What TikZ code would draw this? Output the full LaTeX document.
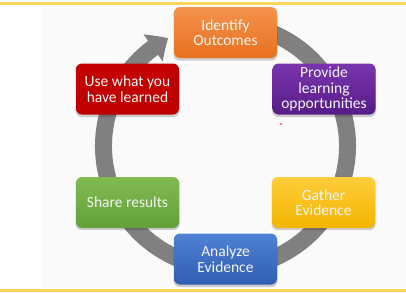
\documentclass[tikz,border=0pt]{standalone}
\usepackage{fontspec}
\setmainfont{Carlito}
\usetikzlibrary{arrows.meta,bending,calc}
\definecolor{bandyellow}{HTML}{FFD55A}
\definecolor{ringgray}{HTML}{808080}
\definecolor{orangeT}{HTML}{F5924C}\definecolor{orangeB}{HTML}{E8701F}
\definecolor{purpleT}{HTML}{7A35AE}\definecolor{purpleB}{HTML}{561C86}
\definecolor{yellowT}{HTML}{FFCD3A}\definecolor{yellowB}{HTML}{F2B500}
\definecolor{blueT}{HTML}{4F82D4}\definecolor{blueB}{HTML}{2F5DB2}
\definecolor{greenT}{HTML}{82BA52}\definecolor{greenB}{HTML}{62A038}
\definecolor{redT}{HTML}{C50000}\definecolor{redB}{HTML}{BE0000}
\definecolor{txt}{HTML}{F4F4F4}
\tikzset{
  stepbox/.style={rounded corners=6pt, minimum width=103pt, minimum height=51pt,
    align=center, text=txt, font=\fontsize{15.5}{15.5}\selectfont, inner sep=2pt},
  shadowbox/.style={fill=black, opacity=0.18, rounded corners=6pt, minimum width=104pt, minimum height=52pt},
}
\begin{document}
\begin{tikzpicture}[x=1pt,y=-1pt]
\useasboundingbox (0,0) rectangle (406,292);
\fill[white] (0,0) rectangle (406,292);
\fill[black!2] (42,4.5) rectangle (406,288.5);
\fill[bandyellow] (0,2) rectangle (406,4.5);
\fill[bandyellow] (0,288.5) rectangle (406,292);
\coordinate (c) at (225.5,146);
% ring with arrow
\draw[ringgray, line width=17pt, -{Triangle[width=32pt,length=18pt,bend]}]
  ($(c)+(80:122pt)$) arc[start angle=80, end angle=-242, radius=122pt];
% red dot
\fill[red] (281,124) circle (0.8pt);
% shadows
\foreach \p in {(225.5,34.5),(324,91),(323.5,204),(225.5,261),(127.5,204),(127.5,91)}
  \node[shadowbox] at \p {};
% boxes
\node[stepbox, top color=orangeT, bottom color=orangeB] (id) at (225.5,32.5) {Identify\\Outcomes};
\node[stepbox, top color=purpleT, bottom color=purpleB] (pl) at (324,89) {Provide\\learning\\opportunities};
\node[stepbox, top color=yellowT, bottom color=yellowB] (ge) at (323.5,202.5) {Gather\\Evidence};
\node[stepbox, top color=blueT, bottom color=blueB] (ae) at (225.5,259) {Analyze\\Evidence};
\node[stepbox, top color=greenT, bottom color=greenB] (sr) at (127.5,202.5) {Share results};
\node[stepbox, top color=redT, bottom color=redB] (uw) at (127.5,89) {Use what you\\have learned};
\end{tikzpicture}
\end{document}
